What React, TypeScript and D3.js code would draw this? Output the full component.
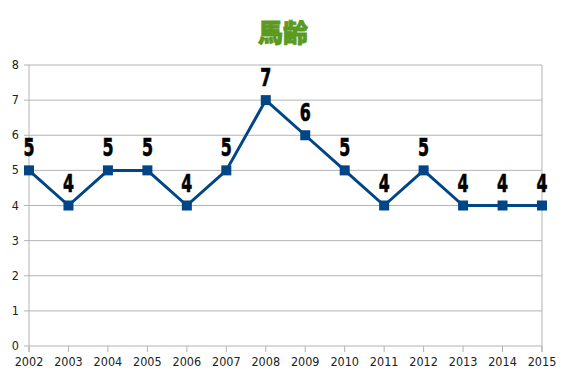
import React from "react";
import * as d3 from "d3";

const years = ["2002","2003","2004","2005","2006","2007","2008","2009","2010","2011","2012","2013","2014","2015"];
const values = [5,4,5,5,4,5,7,6,5,4,5,4,4,4];
const yTicks = [0,1,2,3,4,5,6,7,8];
const title = "馬齢";

export default function App() {
  const W = 567, H = 378;
  const x = d3.scalePoint<string>().domain(years).range([29, 542]);
  const y = d3.scaleLinear().domain([0, 8]).range([346, 65]);
  const line = d3.line<number>().x((_, i) => x(years[i])!).y(d => y(d));
  return (
    <svg width={W} height={H} style={{ position: "absolute", left: 0, top: 0 }}>
      <rect width={W} height={H} fill="#fff" />
      <text x={283} y={42} textAnchor="middle" fontSize={25} fontWeight="900" fill="#5b9a1f" stroke="#5b9a1f" strokeWidth={0.8} fontFamily="'Noto Sans CJK JP', sans-serif">{title}</text>
      {yTicks.map(t => (
        <g key={t}>
          <line x1={24} x2={542} y1={y(t)} y2={y(t)} stroke="#b3b3b3" strokeWidth={1} />
          <text x={19} y={y(t) + 4} textAnchor="end" fontSize={12.5} fill="#222" fontFamily="'DejaVu Sans Condensed', 'DejaVu Sans', sans-serif">{t}</text>
        </g>
      ))}
      <line x1={29} x2={29} y1={y(8)} y2={352} stroke="#b3b3b3" />
      <line x1={542} x2={542} y1={y(8)} y2={352} stroke="#b3b3b3" />
      {years.map(yr => (
        <g key={yr}>
          <line x1={x(yr)!} x2={x(yr)!} y1={346} y2={352} stroke="#b3b3b3" />
          <text x={x(yr)!} y={366} textAnchor="middle" fontSize={12.5} fill="#222" fontFamily="'DejaVu Sans Condensed', 'DejaVu Sans', sans-serif">{yr}</text>
        </g>
      ))}
      <path d={line(values)!} fill="none" stroke="#004586" strokeWidth={3} strokeLinejoin="round" />
      {values.map((v, i) => (
        <rect key={i} x={x(years[i])! - 5} y={y(v) - 5} width={10} height={10} fill="#004586" />
      ))}
      {values.map((v, i) => (
        <text key={"l" + i} transform={`translate(${x(years[i])!},${y(v) - 14}) scale(0.72,1.12)`} textAnchor="middle" fontSize={22} fontWeight="bold" fill="#000" stroke="#000" strokeWidth={0.6} fontFamily="'DejaVu Sans', sans-serif">{v}</text>
      ))}
    </svg>
  );
}
